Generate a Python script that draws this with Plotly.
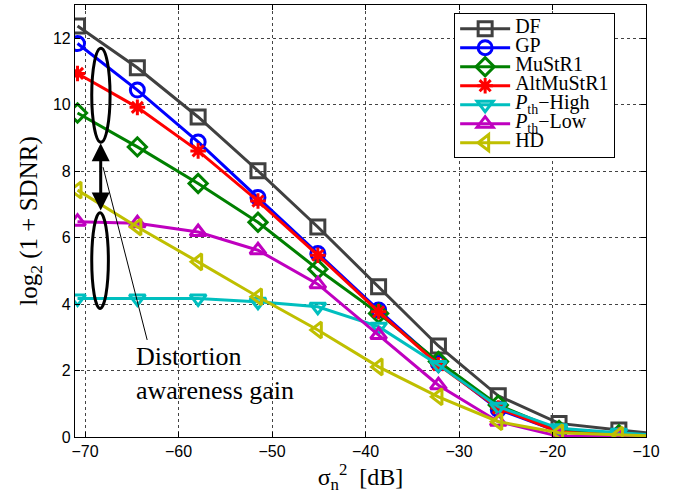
import plotly.graph_objects as go

# ---- data ----
noise_db = [-70.8, -64.4, -57.9, -51.5, -45.1, -38.6, -32.2, -25.8, -19.3, -12.9, -6.4]

df_vals = [12.37, 11.11, 9.63, 8.01, 6.32, 4.52, 2.74, 1.24, 0.41, 0.21, 0.02]
gp_vals = [11.84, 10.44, 8.88, 7.21, 5.52, 3.82, 2.22, 0.83, 0.16, 0.06, 0.0]
mustr1_vals = [9.75, 8.73, 7.63, 6.46, 5.05, 3.72, 2.27, 0.96, 0.20, 0.07, 0.0]
altmustr1_vals = [10.94, 9.92, 8.61, 7.10, 5.47, 3.77, 2.17, 0.87, 0.15, 0.05, 0.0]
pth_high_vals = [4.17, 4.17, 4.17, 4.07, 3.92, 3.32, 2.17, 0.91, 0.26, 0.13, 0.0]
pth_low_vals = [6.48, 6.43, 6.17, 5.62, 4.60, 3.07, 1.56, 0.46, 0.02, 0.02, 0.0]
hd_vals = [7.43, 6.32, 5.27, 4.22, 3.22, 2.11, 1.21, 0.46, 0.13, 0.06, 0.0]

series_names = ["DF", "GP", "MuStR1", "AltMuStR1",
                "<i>P</i><sub>th</sub>\u2212High", "<i>P</i><sub>th</sub>\u2212Low", "HD"]
series_vals = [df_vals, gp_vals, mustr1_vals, altmustr1_vals, pth_high_vals, pth_low_vals, hd_vals]
series_colors = ["#404040", "#0000ff", "#008000", "#ff0000", "#00bfbf", "#bf00bf", "#bfbf00"]
series_symbols = ["square-open", "circle-open", "diamond-open", "asterisk-open",
                  "triangle-down-open", "triangle-up-open", "triangle-left-open"]

annot_text = "Distortion<br>awareness gain"
x_ticks = [-70, -60, -50, -40, -30, -20, -10]
y_ticks = [0, 2, 4, 6, 8, 10, 12]

SERIF = "Liberation Serif"
SANS = "Liberation Sans"

fig = go.Figure()
for name, vals, col, sym in zip(series_names, series_vals, series_colors, series_symbols):
    fig.add_trace(go.Scatter(
        x=noise_db, y=vals, mode="lines+markers",
        name='<span style="font-size:20px">' + name + '</span>',
        line=dict(color=col, width=3),
        marker=dict(symbol=sym, size=14 if sym != "asterisk-open" else 13,
                    color=col, line=dict(color=col, width=3)),
    ))

# ellipses
fig.add_shape(type="circle", xref="x", yref="y", x0=-69.28, x1=-67.32, y0=8.87, y1=11.7,
              line=dict(color="black", width=3))
fig.add_shape(type="circle", xref="x", yref="y", x0=-69.28, x1=-67.5, y0=3.87, y1=6.75,
              line=dict(color="black", width=3))
# thin pointer line
fig.add_shape(type="line", xref="x", yref="y", x0=-68.07, y0=8.12, x1=-63.35, y1=2.92,
              line=dict(color="black", width=1))
# double arrow
fig.add_annotation(x=-68.32, y=8.84, ax=-68.32, ay=6.77, xref="x", yref="y",
                   axref="x", ayref="y", text="", showarrow=True,
                   arrowhead=2, startarrowhead=2, arrowside="end+start",
                   arrowsize=1.2, startarrowsize=1.2, arrowwidth=3, arrowcolor="black")
fig.add_annotation(x=-64.75, y=1.9, xref="x", yref="y", text=annot_text,
                   showarrow=False, xanchor="left", yanchor="middle", align="left",
                   font=dict(family=SERIF, size=26, color="black"))

axis_common = dict(
    showline=True, linecolor="black", linewidth=1.2, mirror="ticks",
    ticks="inside", ticklen=5, tickcolor="black",
    showgrid=True, gridcolor="#444444", griddash="dot", gridwidth=1,
    zeroline=False, automargin=False,
    tickfont=dict(family=SANS, size=16, color="black"),
)

fig.update_xaxes(range=[-71.07, -10], tickvals=x_ticks,
                 title=dict(text="\u03c3<sub>n</sub><sup>2</sup>  [dB]",
                            font=dict(family=SERIF, size=24, color="black"), standoff=4),
                 **axis_common)
fig.update_yaxes(range=[0, 13], tickvals=y_ticks,
                 title=dict(text="log<sub>2</sub> (1 + SDNR)",
                            font=dict(family=SERIF, size=25, color="black"), standoff=8),
                 **axis_common)

fig.update_layout(
    width=673, height=495,
    margin=dict(l=75, r=27, t=5, b=58, autoexpand=False),
    paper_bgcolor="white", plot_bgcolor="white",
    legend=dict(x=0.664, y=0.981, xanchor="left", yanchor="top",
                bgcolor="white", bordercolor="black", borderwidth=1,
                font=dict(family=SERIF, size=12, color="black"),
                itemwidth=50, tracegroupgap=0),
)

fig.write_html("out.html", config={"displayModeBar": False},
               post_script="document.body.style.margin='0';")
